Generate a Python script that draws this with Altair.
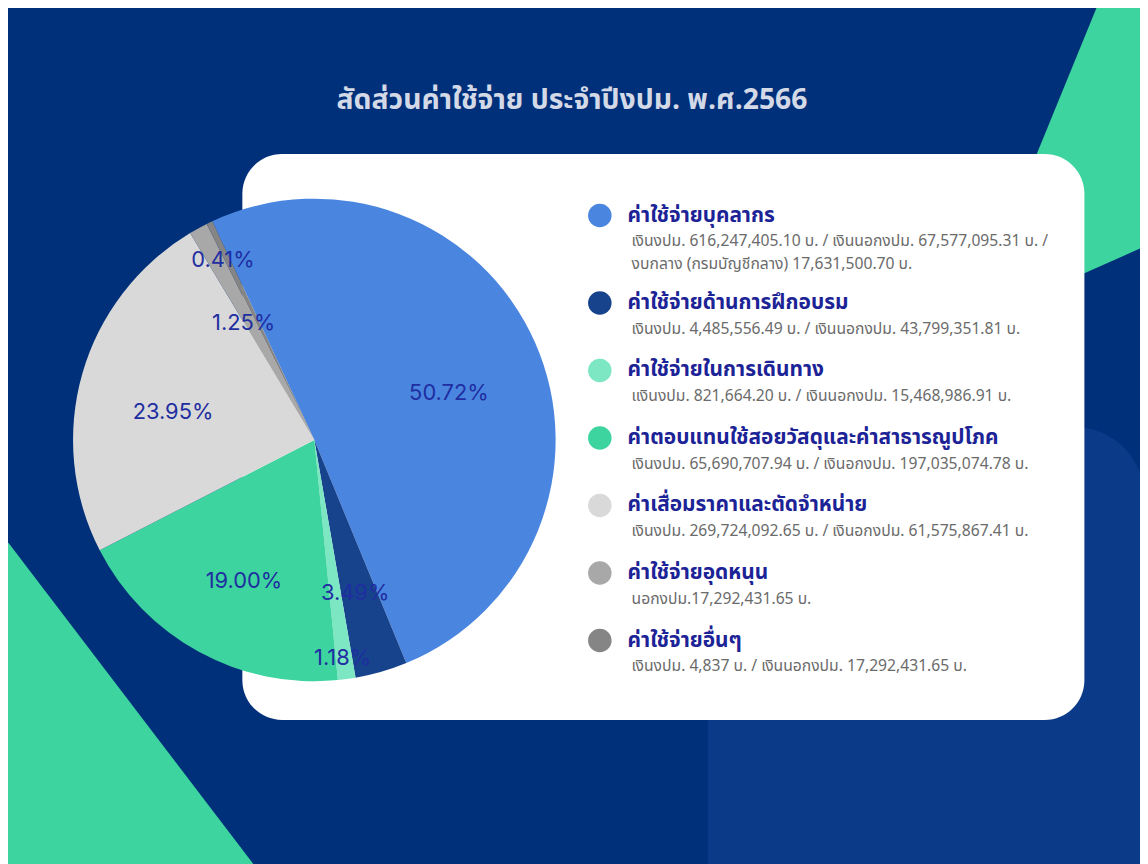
import math
import altair as alt
import pandas as pd

# ---------------- data ----------------
categories = [
    "ค่าใช้จ่ายบุคลากร",
    "ค่าใช้จ่ายด้านการฝึกอบรม",
    "ค่าใช้จ่ายในการเดินทาง",
    "ค่าตอบแทนใช้สอยวัสดุและค่าสาธารณูปโภค",
    "ค่าเสื่อมราคาและตัดจำหน่าย",
    "ค่าใช้จ่ายอุดหนุน",
    "ค่าใช้จ่ายอื่นๆ",
]
shares = [50.72, 3.49, 1.18, 19.00, 23.95, 1.25, 0.41]
details = [
    "เงินงปม. 616,247,405.10  บ. / เงินนอกงปม. 67,577,095.31  บ. /\nงบกลาง (กรมบัญชีกลาง) 17,631,500.70 บ.",
    "เงินงปม. 4,485,556.49 บ. / เงินนอกงปม. 43,799,351.81  บ.",
    "แงินงปม. 821,664.20 บ. / เงินนอกงปม. 15,468,986.91 บ.",
    "เงินงปม. 65,690,707.94 บ. / เงินอกงปม. 197,035,074.78 บ.",
    "เงินงปม. 269,724,092.65 บ. / เงินอกงปม. 61,575,867.41 บ.",
    "นอกงปม.17,292,431.65 บ.",
    "เงินงปม.  4,837 บ. / เงินนอกงปม. 17,292,431.65 บ.",
]
colors = ["#4a86e0", "#17428c", "#7de6c3", "#3dd49f", "#d9d9d9", "#a8a8a8", "#858585"]
title_text = "สัดส่วนค่าใช้จ่าย ประจำปีงปม. พ.ศ.2566"

# ---------------- layout constants ----------------
W, H = 1140, 856
BG = "#00307a"
CX, CY, R = 308.5, 432, 243
START = -25 * math.pi / 180
LABEL_COLOR = "#1f2ea0"
HEAD_COLOR = "#1c2396"
THAI = "Noto Sans Thai, Noto Sans, sans-serif"

# legend rows: stacked by the number of detail lines
row_y = []
y = 206
for d in details:
    row_y.append(y)
    y += 68 + 20 * (d.count("\n"))

df = pd.DataFrame({
    "cat": categories,
    "share": shares,
    "idx": list(range(len(categories))),
    "label": [f"{s:.2f}%" for s in shares],
    "detail": details,
    "ly": row_y,
})
df["dy"] = df["ly"] + 19

color = alt.Color("cat:N", scale=alt.Scale(domain=categories, range=colors), legend=None)
one = pd.DataFrame({"k": [0]})

# ---------------- decorations ----------------
light_rect = alt.Chart(one).mark_rect(color="#0b3a88", cornerRadius=70).encode(
    x=alt.value(705), x2=alt.value(1144), y=alt.value(419), y2=alt.value(1000)
)
mint_tr = alt.Chart(one).mark_point(
    shape="M1099,-10 L1170,-10 L1170,226 L1084,264 L987,264 Z",
    size=4, filled=True, fill="#3dd49f", opacity=1, strokeWidth=0,
).encode(x=alt.value(0), y=alt.value(0))
mint_bl = alt.Chart(one).mark_point(
    shape="M-10,522 L260,876 L-10,876 Z",
    size=4, filled=True, fill="#3dd49f", opacity=1, strokeWidth=0,
).encode(x=alt.value(0), y=alt.value(0))
card = alt.Chart(one).mark_rect(color="#ffffff", cornerRadius=40).encode(
    x=alt.value(236), x2=alt.value(1084), y=alt.value(144), y2=alt.value(714)
)
title = alt.Chart(pd.DataFrame({"t": [title_text]})).mark_text(
    font=THAI, fontSize=28.5, fontWeight="bold", color="#d3d9e6", align="center", baseline="middle"
).encode(x=alt.value(568), y=alt.value(90), text="t:N")

# ---------------- pie ----------------
theta = alt.Theta("share:Q", stack=True, scale=alt.Scale(range=[START, START + 2 * math.pi]))
base = alt.Chart(df)
pie = base.mark_arc(radius=R, stroke=None).encode(
    theta=theta, color=color, order=alt.Order("idx:Q"),
    x=alt.value(CX), y=alt.value(CY),
)


def label_layer(expr, radius, dy):
    return base.transform_calculate(txt=expr).mark_text(
        font="Inter, Lato, sans-serif", fontSize=22, fontWeight="normal",
        color=LABEL_COLOR, radius=radius, dy=dy,
    ).encode(
        theta=theta, order=alt.Order("idx:Q"),
        text="txt:N", x=alt.value(CX), y=alt.value(CY),
    )


labels_in = label_layer("datum.share >= 1.2 ? datum.label : ''", 148, 12)
labels_out = label_layer("datum.share < 1.2 ? datum.label : ''", 212, 10)

# ---------------- legend ----------------
dots = base.mark_circle(size=560, opacity=1).encode(
    x=alt.value(596), y=alt.Y("ly:Q", scale=None), color=color
)
heads = base.mark_text(
    font=THAI, fontSize=21, fontWeight="bold", color=HEAD_COLOR, align="left", baseline="middle"
).encode(x=alt.value(624), y=alt.Y("ly:Q", scale=None), text="cat:N")
subs = base.mark_text(
    font=THAI, fontSize=15.8, color="#6b6b6b", align="left", baseline="top",
    lineBreak="\n", lineHeight=23,
).encode(x=alt.value(628), y=alt.Y("dy:Q", scale=None), text="detail:N")

chart = alt.layer(
    light_rect, mint_tr, mint_bl, card, title, pie, labels_in, labels_out, dots, heads, subs
).properties(
    width=W, height=H, autosize="none", padding=0, background=BG
).configure_view(stroke=None)

chart.save("out.html", embed_options={"renderer": "svg", "actions": False})
